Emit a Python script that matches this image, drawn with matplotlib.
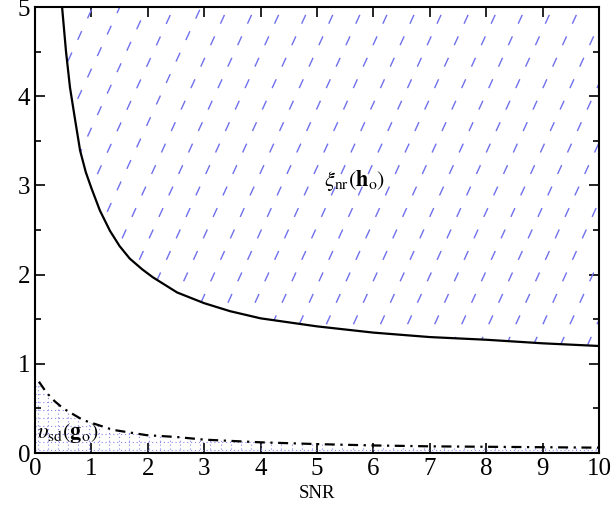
import numpy as np
import matplotlib.pyplot as plt
from matplotlib.patches import Polygon

plt.rcParams['font.family'] = ['Liberation Serif', 'DejaVu Serif']
plt.rcParams['mathtext.fontset'] = 'stix'

# upper curve xi_nr(h_o)
snr_xi = [0.48, 0.55, 0.62, 0.71, 0.8, 0.9, 1.0, 1.15, 1.33, 1.5, 1.68, 1.9,
          2.09, 2.52, 3.0, 3.46, 4.0, 5.0, 6.0, 7.0, 8.0, 9.0, 10.0]
xi_nr = [5.0, 4.5, 4.1, 3.74, 3.39, 3.15, 2.97, 2.72, 2.49, 2.32, 2.18, 2.06,
         1.97, 1.80, 1.68, 1.59, 1.51, 1.42, 1.35, 1.30, 1.27, 1.23, 1.20]

# lower curve upsilon_sd(g_o)
snr_ups = [0.07, 0.2, 0.35, 0.5, 0.85, 1.38, 1.98, 2.5, 3.0, 4.0, 5.0, 6.0,
           7.0, 8.0, 9.0, 10.0]
ups_sd = [0.80, 0.68, 0.58, 0.5, 0.37, 0.26, 0.2, 0.18, 0.15, 0.12, 0.1,
          0.085, 0.075, 0.07, 0.065, 0.06]

fig = plt.figure(figsize=(6.13, 5.12), dpi=100)
ax = fig.add_axes([0.0571, 0.1152, 0.920, 0.871])
ax.set_xlim(0, 10)
ax.set_ylim(0, 5)

# region above the solid curve, hatched with dashed blue lines
top = np.array(list(zip(snr_xi, xi_nr)) + [(10, 5), (0.48, 5)])
region = Polygon(top, closed=True, facecolor='none', edgecolor='none')
ax.add_patch(region)
for x0 in np.arange(-5, 12, 0.48):
    ln, = ax.plot([x0, x0 + 5], [0, 5 * 1.38], color='#7070ee', lw=1.0,
                  dashes=(7, 10))
    ln.set_clip_path(region)

# region below the dash-dot curve, dotted blue grid
bot = np.array([(0, 0), (0, 0.80)] + list(zip(snr_ups, ups_sd)) + [(10, 0)])
region2 = Polygon(bot, closed=True, facecolor='none', edgecolor='none')
ax.add_patch(region2)
for yy in np.arange(0.03, 1.0, 0.09):
    ln, = ax.plot([0, 10], [yy, yy], color='#8888ee', lw=0.8, ls=(0, (1, 2.5)))
    ln.set_clip_path(region2)
for xx in np.arange(0.05, 10, 0.18):
    ln, = ax.plot([xx, xx], [0, 1], color='#8888ee', lw=0.8, ls=(0, (1, 2.5)))
    ln.set_clip_path(region2)

ax.plot(snr_xi, xi_nr, color='black', lw=1.6)
ax.plot(snr_ups, ups_sd, color='black', lw=1.6, dashes=(4.5, 2.5, 1, 2.5))

ax.text(5.67, 3.06, r'$\xi_{\rm nr}(\mathbf{h}_{\rm o})$', fontsize=16,
        ha='center', va='center')
ax.text(0.04, 0.22, r'$\upsilon_{\rm sd}(\mathbf{g}_{\rm o})$', fontsize=16,
        ha='left', va='center')

ax.set_xticks(range(0, 11))
ax.set_yticks(range(0, 6))
ax.set_yticks(np.arange(0, 5.01, 0.5), minor=True)
ax.tick_params(which='both', direction='in', top=True, right=True, width=1.2)
ax.tick_params(which='major', length=7, labelsize=18)
ax.tick_params(which='minor', length=4)
for s in ax.spines.values():
    s.set_linewidth(1.5)
ax.set_xlabel('SNR', fontsize=13.5)

plt.savefig('out.png', dpi=100)
